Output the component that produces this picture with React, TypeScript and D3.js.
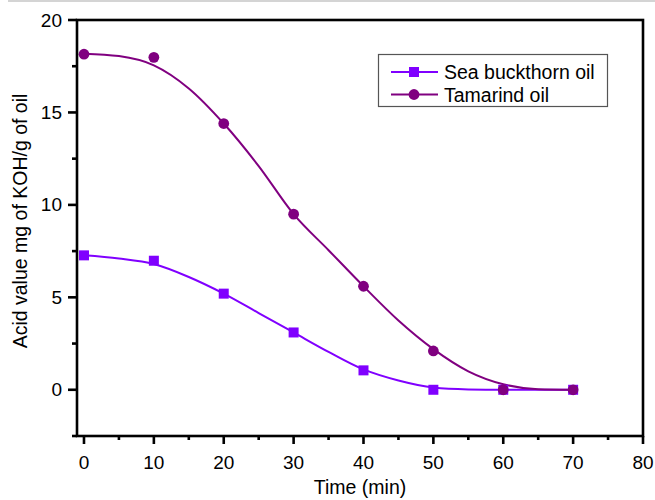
import React from "react";
import * as d3 from "d3";

// Measured points (time in minutes)
const times = [0, 10, 20, 30, 40, 50, 60, 70];
const seaBuckthorn = [7.27, 6.98, 5.2, 3.1, 1.05, 0.0, 0.0, 0.0];
const tamarind = [18.15, 17.98, 14.4, 9.5, 5.6, 2.1, 0.0, 0.0];

// Fitted curves, sampled every 5 minutes
const fitTimes = [0, 5, 10, 15, 20, 25, 30, 35, 40, 45, 50, 55, 60, 65, 70];
const seaBuckthornFit = [7.27, 7.1, 6.8, 6.1, 5.2, 4.15, 3.1, 2.05, 1.1, 0.5, 0.12, 0.02, 0, 0, 0];
const tamarindFit = [18.18, 18.05, 17.55, 16.3, 14.4, 12.1, 9.5, 7.55, 5.6, 3.75, 2.2, 1.0, 0.3, 0.03, 0];

const xMajor = [0, 10, 20, 30, 40, 50, 60, 70, 80];
const xMinor = [5, 15, 25, 35, 45, 55, 65, 75];
const yMajor = [0, 5, 10, 15, 20];
const yMinor = [-2.5, 2.5, 7.5, 12.5, 17.5];

const seriesNames = ["Sea buckthorn oil", "Tamarind oil"];
const colors = ["#8000ff", "#800080"];

const W = 655;
const H = 500;
const left = 77;
const right = 643;
const top = 20;
const bottom = 436;
const font = "'Liberation Sans', Arial, Helvetica, sans-serif";

export default function App() {
  const x = d3.scaleLinear().domain([-1, 80]).range([left, right]);
  const y = d3.scaleLinear().domain([-2.5, 20]).range([bottom, top]);

  const line = d3
    .line<[number, number]>()
    .x((d) => x(d[0]))
    .y((d) => y(d[1]))
    .curve(d3.curveMonotoneX);

  const sbPath = line(fitTimes.map((t, i) => [t, seaBuckthornFit[i]]) as [number, number][]) || "";
  const tmPath = line(fitTimes.map((t, i) => [t, tamarindFit[i]]) as [number, number][]) || "";

  const sq = 10;
  const r = 5.4;

  return (
    <svg
      width={W}
      height={H}
      style={{ position: "absolute", left: 0, top: 0, background: "#fff" }}
      fontFamily={font}
    >
      <rect x={0} y={0} width={W} height={H} fill="#fff" />
      <line x1={8} x2={W} y1={1} y2={1} stroke="#d4d4d4" strokeWidth={2} />

      {/* curves */}
      <path d={sbPath} fill="none" stroke={colors[0]} strokeWidth={2} />
      <path d={tmPath} fill="none" stroke={colors[1]} strokeWidth={2} />

      {/* markers */}
      {times.map((t, i) => (
        <rect
          key={"sb" + i}
          x={x(t) - sq / 2}
          y={y(seaBuckthorn[i]) - sq / 2}
          width={sq}
          height={sq}
          fill={colors[0]}
        />
      ))}
      {times.map((t, i) => (
        <circle key={"tm" + i} cx={x(t)} cy={y(tamarind[i])} r={r} fill={colors[1]} />
      ))}

      {/* frame */}
      <rect
        x={left}
        y={top}
        width={right - left}
        height={bottom - top}
        fill="none"
        stroke="#000"
        strokeWidth={2.6}
      />

      {/* y ticks */}
      {yMajor.map((v) => (
        <g key={"ym" + v}>
          <line x1={left - 9} x2={left} y1={y(v)} y2={y(v)} stroke="#000" strokeWidth={2.6} />
          <text
            x={left - 15}
            y={y(v)}
            textAnchor="end"
            dominantBaseline="central"
            fontSize={19}
          >
            {v}
          </text>
        </g>
      ))}
      {yMinor.map((v) => (
        <line key={"yn" + v} x1={left - 5} x2={left} y1={y(v)} y2={y(v)} stroke="#000" strokeWidth={2.6} />
      ))}

      {/* x ticks */}
      {xMajor.map((v) => (
        <g key={"xm" + v}>
          <line x1={x(v)} x2={x(v)} y1={bottom} y2={bottom + 8} stroke="#000" strokeWidth={2.6} />
          <text x={x(v)} y={469} textAnchor="middle" fontSize={19}>
            {v}
          </text>
        </g>
      ))}
      {xMinor.map((v) => (
        <line key={"xn" + v} x1={x(v)} x2={x(v)} y1={bottom} y2={bottom + 4} stroke="#000" strokeWidth={2.6} />
      ))}

      {/* axis titles */}
      <text x={(left + right) / 2} y={494} textAnchor="middle" fontSize={19.5}>
        Time (min)
      </text>
      <text
        transform={`translate(27, ${(90 + 352) / 2}) rotate(-90)`}
        textAnchor="middle"
        fontSize={19.5}
      >
        Acid value mg of KOH/g of oil
      </text>

      {/* legend */}
      <rect x={378.5} y={54.5} width={229} height={52} fill="#fff" stroke="#555" strokeWidth={1.2} />
      {seriesNames.map((name, i) => {
        const ly = 72 + i * 22.5;
        return (
          <g key={name}>
            <line x1={391} x2={438} y1={ly} y2={ly} stroke={colors[i]} strokeWidth={2} />
            {i === 0 ? (
              <rect x={414 - sq / 2} y={ly - sq / 2} width={sq} height={sq} fill={colors[i]} />
            ) : (
              <circle cx={414} cy={ly} r={r} fill={colors[i]} />
            )}
            <text x={444} y={ly} dominantBaseline="central" fontSize={19.5}>
              {name}
            </text>
          </g>
        );
      })}
    </svg>
  );
}
